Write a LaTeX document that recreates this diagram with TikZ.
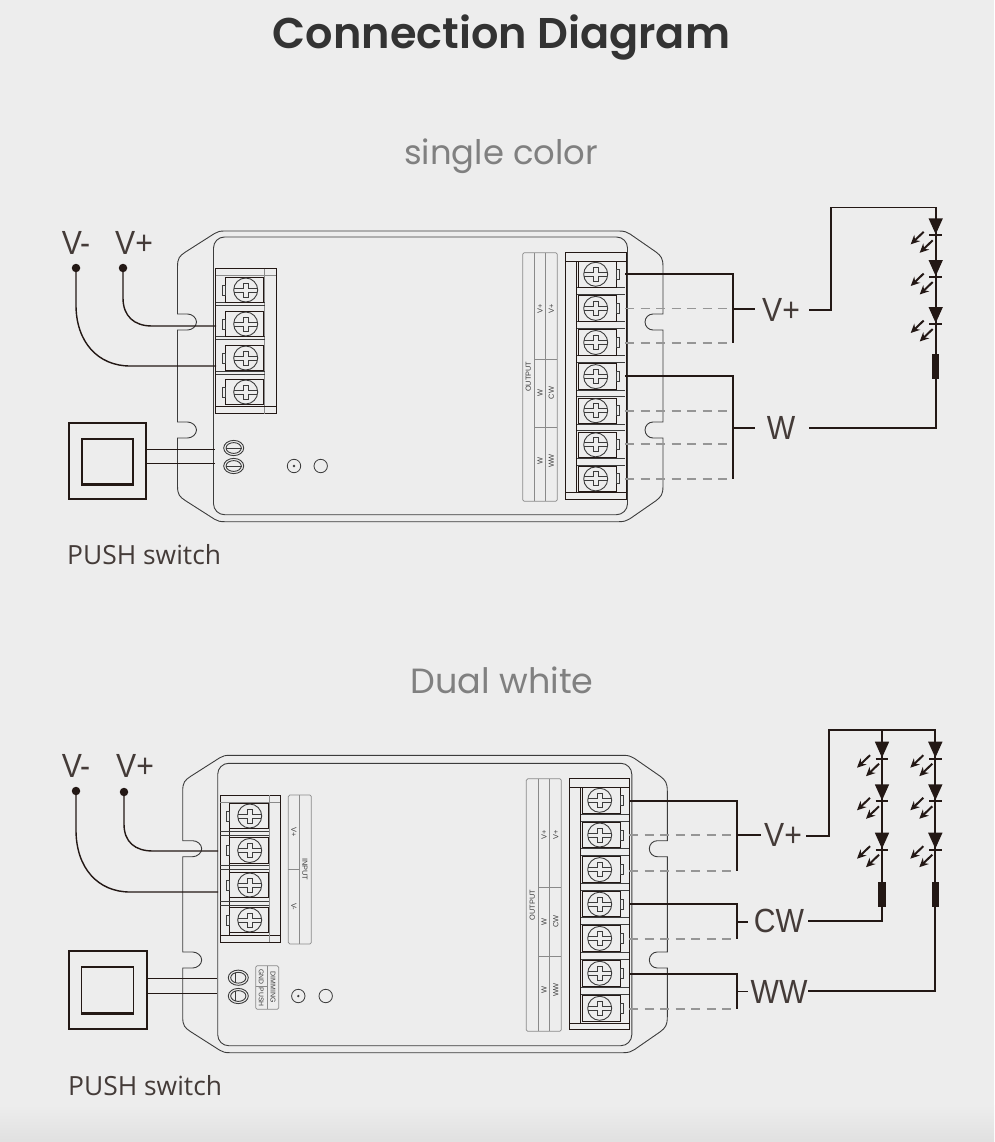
\documentclass[tikz,border=0pt]{standalone}
\usepackage{fontspec}
\usetikzlibrary{arrows.meta}
\setmainfont{Liberation Sans}
\newfontfamily\ttlfont{Poppins}[UprightFont=*-SemiBold]
\newfontfamily\subfont{Poppins}
\newfontfamily\lblfont{Liberation Sans}[FakeStretch=0.9]
\newfontfamily\pushfont{Open Sans}
\definecolor{bgc}{HTML}{EDEDED}
\definecolor{ink}{HTML}{231815}
\definecolor{devc}{HTML}{3C3C3C}
\definecolor{stripc}{HTML}{8A8A8A}
\definecolor{dashc}{HTML}{969696}
\tikzset{
 devline/.style={draw=devc,line width=0.9pt},
 heavyline/.style={draw=ink,line width=0.95pt},
 stripline/.style={draw=stripc,line width=0.7pt},
 wire/.style={draw=ink,line width=1.8pt},
 thinwire/.style={draw=ink,line width=1.2pt},
 dashwire/.style={draw=dashc,line width=1.8pt,dash pattern=on 9pt off 6.5pt},
 stripfont/.style={text=devc,font=\fontsize{7.4}{8}\selectfont,inner sep=0pt},
 biglabel/.style={text=ink!85!white,font=\lblfont\fontsize{33.5}{36}\selectfont,inner sep=0pt},
 pushlabel/.style={text=ink!85!white,font=\pushfont\fontsize{26.4}{29}\selectfont,inner sep=0pt,anchor=west},
 dot/.style={circle,fill=ink,inner sep=0pt,minimum size=8.5pt},
 screw/.pic={
  \draw[devline,line width=0.9pt] (0,0) circle[radius=12pt];
  \draw[devline,line width=0.9pt,line join=miter] (-2.6,-7) -- (2.6,-7) -- (2.6,-2) -- (11.7,-2) (11.7,2) -- (2.6,2) -- (2.6,7) -- (-2.6,7) -- (-2.6,2) -- (-11.7,2) (-11.7,-2) -- (-2.6,-2) -- (-2.6,-7);
 },
 led/.pic={
  \fill[ink] (-7.2,0) -- (7.2,0) -- (0,16) -- cycle;
  \draw[ink,line width=2pt] (-6.3,17) -- (6.3,17);
  \draw[ink,line width=2pt,-{Stealth[length=9pt,width=8.5pt]}] (-12,13.5) -- (-25,26);
  \draw[ink,line width=2pt,-{Stealth[length=9pt,width=8.5pt]}] (-3,22) -- (-16,34.5);
 },
 resistor/.pic={\fill[ink] (-3.7,0) rectangle (3.7,25);},
 pushbtn/.pic={
  \draw[devline,line width=0.9pt] (0,0) ellipse[x radius=10pt,y radius=7.6pt];
  \draw[devline] (0,0) ellipse[x radius=7.6pt,y radius=5.4pt];
 },
}
% housing: L R T B | iL iT | notch tops
\newcommand{\housing}[8]{%
 \def\Lx{#1}\def\Rx{#2}\def\Ty{#3}\def\By{#4}%
 \draw[devline] (\Lx,\Ty+36) .. controls (\Lx,\Ty+27) and (\Lx+2,\Ty+25) .. (\Lx+8,\Ty+21)
  -- (\Lx+37,\Ty+2.5) .. controls (\Lx+40,\Ty+0.5) and (\Lx+43,\Ty) .. (\Lx+47,\Ty)
  -- (\Rx-44,\Ty) .. controls (\Rx-39,\Ty) and (\Rx-36,\Ty+1) .. (\Rx-33,\Ty+3)
  -- (\Rx-7,\Ty+21) .. controls (\Rx-2,\Ty+25) and (\Rx,\Ty+27) .. (\Rx,\Ty+36)
  -- (\Rx,#7) -- (\Rx-10,#7) .. controls (\Rx-14.4,#7) and (\Rx-18,#7+3.6) .. (\Rx-18,#7+8)
  .. controls (\Rx-18,#7+12.4) and (\Rx-14.4,#7+16) .. (\Rx-10,#7+16) -- (\Rx,#7+16)
  -- (\Rx,#8) -- (\Rx-10,#8) .. controls (\Rx-14.4,#8) and (\Rx-18,#8+3.6) .. (\Rx-18,#8+8)
  .. controls (\Rx-18,#8+12.4) and (\Rx-14.4,#8+16) .. (\Rx-10,#8+16) -- (\Rx,#8+16)
  -- (\Rx,\By-36) .. controls (\Rx,\By-27) and (\Rx-2,\By-25) .. (\Rx-7,\By-21)
  -- (\Rx-33,\By-3) .. controls (\Rx-36,\By-1) and (\Rx-39,\By) .. (\Rx-44,\By)
  -- (\Lx+47,\By) .. controls (\Lx+43,\By) and (\Lx+40,\By-0.5) .. (\Lx+37,\By-2.5)
  -- (\Lx+8,\By-21) .. controls (\Lx+2,\By-25) and (\Lx,\By-27) .. (\Lx,\By-36)
  -- (\Lx,#8+16) -- (\Lx+10,#8+16) .. controls (\Lx+14.4,#8+16) and (\Lx+19,#8+12.4) .. (\Lx+19,#8+8)
  .. controls (\Lx+19,#8+3.6) and (\Lx+14.4,#8) .. (\Lx+10,#8) -- (\Lx,#8)
  -- (\Lx,#7+16) -- (\Lx+10,#7+16) .. controls (\Lx+14.4,#7+16) and (\Lx+19,#7+12.4) .. (\Lx+19,#7+8)
  .. controls (\Lx+19,#7+3.6) and (\Lx+14.4,#7) .. (\Lx+10,#7) -- (\Lx,#7) -- cycle;
 \draw[devline,rounded corners=11pt] (#5,#6) rectangle (\Rx-35.5,\By-7);
}
% one terminal: xl xr cx cy tabx
\newcommand{\tbox}[5]{%
 \draw[heavyline] (#1,#4-12.7) rectangle (#2,#4+12.7);
 \draw[devline] (#5,#4-5) rectangle (#5+2.6,#4+5);
 \pic at (#3,#4) {screw};
}
\begin{document}
\begin{tikzpicture}[x=1pt,y=-1pt]
\useasboundingbox (0,0) rectangle (994,1142);
\fill[bgc] (0,0) rectangle (994,1142);
\shade[top color=bgc,bottom color=black!12] (0,1105) rectangle (994,1142);

\node[text=black!80,font=\ttlfont\fontsize{43}{46}\selectfont,inner sep=0pt] (title) at (501.5,37.5) {Connection Diagram};
\node[text=black!50,font=\subfont\fontsize{33.8}{36}\selectfont,inner sep=0pt] (sub1) at (501,156) {single color};
\node[text=black!50,font=\subfont\fontsize{35}{38}\selectfont,inner sep=0pt] (sub2) at (502,680) {Dual white};

%%%%%%%%%%%%%%%% TOP DEVICE
\housing{177.5}{663}{231}{521.7}{213.5}{237}{314}{422}
% left block
\draw[heavyline] (215.7,268.7) rectangle (276,413.7);
\draw[stripline] (215.7,275.7) -- (276,275.7) (264.7,268.7) -- (264.7,413.7);
\draw[heavyline] (215.7,406.7) -- (276,406.7);
\foreach \yy in {304.3,338.3,372.7}{\draw[devline] (216,\yy-1.5) -- (264.7,\yy-1.5) (216,\yy+1.5) -- (264.7,\yy+1.5);}
\foreach \yy in {290,324,358,392}{\tbox{225}{263.3}{245.7}{\yy}{222.4}}
% right block
\draw[heavyline] (565.3,252.7) rectangle (626,499.3);
\draw[heavyline] (565.3,261) -- (626,261) (565.3,492.7) -- (626,492.7) (576.7,261) -- (576.7,492.7);
\foreach \yy in {291.1,325.2,359.3,393.4,427.5,461.6}{\draw[devline] (576.7,\yy-3.4) -- (625,\yy-3.4) (576.7,\yy+3.4) -- (625,\yy+3.4);}
\foreach \yy in {274.3,308.4,342.5,376.6,410.7,444.8,478.9}{\tbox{578.3}{616.7}{595.7}{\yy}{616.7}}
% label strip
\draw[stripline,rounded corners=1.5pt] (522.7,252.7) rectangle (557.3,501.3);
\draw[stripline] (534,252.7) -- (534,501.3) (545.3,252.7) -- (545.3,501.3) (534,359.3) -- (557.3,359.3) (534,427.3) -- (557.3,427.3);
\node[stripfont,rotate=90] (t1o) at (528.3,376.7) {OUTPUT};
\node[stripfont,rotate=90] (t1a) at (540,309) {V+};
\node[stripfont,rotate=90] (t1b) at (551.3,309) {V+};
\node[stripfont,rotate=90] (t1c) at (540,393) {W};
\node[stripfont,rotate=90] (t1d) at (551.3,393) {CW};
\node[stripfont,rotate=90] (t1e) at (540,461) {W};
\node[stripfont,rotate=90] (t1f) at (551.3,461) {WW};
% buttons & LEDs on panel
\pic at (233.7,448) {pushbtn};
\pic at (233.7,466) {pushbtn};
\draw[devline] (225.5,448) -- (242,448) (225.5,466) -- (242,466);
\node[draw=devc,circle,line width=0.8pt,minimum size=13.4pt,inner sep=0pt] (h1a) at (294,466) {};
\fill[devc] (h1a.center) circle[radius=1.3pt];
\node[draw=devc,circle,line width=0.8pt,minimum size=13.4pt,inner sep=0pt] (h1b) at (320.7,466) {};
% switch
\node[draw=ink,line width=1.1pt,minimum width=77pt,minimum height=76pt,inner sep=0pt] (sw1) at (107.5,461) {};
\node[draw=ink,line width=1.1pt,minimum width=51pt,minimum height=45pt,inner sep=0pt] (sw1i) at (107.5,461.5) {};
\draw[ink,line width=2pt] (sw1i.south west) -- (sw1i.south east);
\coordinate (s1a) at (sw1.east |- 0,449.3);\coordinate (s1b) at (sw1.east |- 0,463.7);
\coordinate (b1a) at (215,449.3);\coordinate (b1b) at (215,463.7);
\draw[thinwire] (s1a) -- (b1a) (s1b) -- (b1b);
% supply
\node[biglabel] (vm1) at (76,243) {V-};
\node[biglabel] (vp1) at (134,243) {V+};
\node[dot] (dm1) at (76,268) {};
\node[dot] (dp1) at (123,268) {};
\coordinate (tm1) at (216,366);\coordinate (tp1) at (216,326);
\draw[wire,line width=1.4pt] (dp1.center) -- (123,298) .. controls (123,316) and (134,326) .. (152,326) -- (tp1);
\draw[wire,line width=1.4pt] (dm1.center) -- (76,305) .. controls (76,342) and (98,366) .. (130,366) -- (tm1);
\node[pushlabel] (p1) at (67,555) {PUSH switch};
% output wires
\draw[dashwire] (625,308.4) -- (733,308.4);
\draw[dashwire] (625,342.8) -- (733,342.8);
\draw[dashwire] (625,410.6) -- (733,410.6);
\draw[dashwire] (625,444.2) -- (733,444.2);
\draw[dashwire] (625,478.6) -- (733,478.6);
\coordinate (r1a) at (625,274);\coordinate (j1a) at (733,274);\coordinate (j1b) at (733,342.8);
\coordinate (r1c) at (625,376);\coordinate (j1c) at (733,376);\coordinate (j1d) at (733,478.6);
\draw[wire] (r1a) -- (j1a) -- (j1b);
\draw[wire] (r1c) -- (j1c) -- (j1d);
\node[biglabel] (lv1) at (781,310) {V+};
\node[biglabel] (lw1) at (781,428) {W};
\coordinate (j1e) at (733,309);\coordinate (j1f) at (733,428);
\draw[wire] (j1e) -- (755,309);
\draw[wire] (j1f) -- (755,428);
% LED string
\coordinate (a1) at (809,309.7);\coordinate (a2) at (830.7,309.7);\coordinate (a3) at (830.7,207.5);\coordinate (a4) at (935.7,207.5);\coordinate (a5) at (935.7,427.7);\coordinate (a6) at (809,427.7);
\draw[wire] (a1) -- (a2) -- (a3) -- (a4) -- (a5) -- (a6);
\pic at (935.7,218.3) {led};
\pic at (935.7,260) {led};
\pic at (935.7,307) {led};
\pic at (935.7,354.3) {resistor};

%%%%%%%%%%%%%%%% BOTTOM DEVICE
\housing{182.7}{667.3}{755.3}{1052.7}{217.7}{763.3}{840.7}{952}
% left block
\draw[heavyline] (220,795) rectangle (280,942.3);
\draw[heavyline] (220,935) -- (280,935) (229.3,802.3) -- (229.3,935);
\draw[stripline] (220,802.3) -- (280,802.3) (269.3,795) -- (269.3,942.3);
\foreach \yy in {833.3,867.7,903.2}{\draw[devline] (220,\yy-2) -- (269.3,\yy-2) (220,\yy+2) -- (269.3,\yy+2);}
\foreach \yy in {816,850.5,885,920}{\tbox{229.3}{268.3}{249.7}{\yy}{226.7}}
% input strip
\draw[stripline,rounded corners=1.5pt] (288.3,795) rectangle (311.3,944);
\draw[stripline] (299.7,795) -- (299.7,944) (288.3,869.3) -- (299.7,869.3);
\node[stripfont,rotate=-90] (i1) at (305,869.3) {INPUT};
\node[stripfont,rotate=-90] (i2) at (294,831.7) {V+};
\node[stripfont,rotate=-90] (i3) at (294,906.7) {V-};
% dimming strip
\draw[stripline,rounded corners=1.5pt] (255.7,965.7) rectangle (278.7,1009.3);
\draw[stripline] (267.3,965.7) -- (267.3,1009.3) (255.7,986.7) -- (267.3,986.7);
\node[stripfont,rotate=-90,font=\fontsize{7}{7.5}\selectfont] (d1) at (273,987.3) {DIMMING};
\node[stripfont,rotate=-90,font=\fontsize{6.8}{7}\selectfont] (d2) at (261.3,976.7) {GND};
\node[stripfont,rotate=-90,font=\fontsize{6.8}{7}\selectfont] (d3) at (261.3,997.3) {PUSH};
% buttons
\pic at (238.3,977.7) {pushbtn};
\pic at (238.3,996) {pushbtn};
\draw[devline] (235,972.5) -- (235,983) (235,990.8) -- (235,1001.2);
\node[draw=devc,circle,line width=0.8pt,minimum size=13.4pt,inner sep=0pt] (h2a) at (298.3,996) {};
\fill[devc] (h2a.center) circle[radius=1.3pt];
\node[draw=devc,circle,line width=0.8pt,minimum size=13.4pt,inner sep=0pt] (h2b) at (325.7,996) {};
% right block
\draw[heavyline] (569.7,778.7) rectangle (629.3,1029.3);
\draw[heavyline] (569.7,787.3) -- (629.3,787.3) (569.7,1023.3) -- (629.3,1023.3) (580.7,787.3) -- (580.7,1023.3);
\foreach \yy in {817.6,852.2,886.9,921.2,955.8,990.8}{\draw[devline] (580.7,\yy-3.4) -- (628.5,\yy-3.4) (580.7,\yy+3.4) -- (628.5,\yy+3.4);}
\foreach \yy in {800.3,835,869.6,904.2,938.4,973.3,1008.3}{\tbox{582.3}{620.7}{599.7}{\yy}{620.7}}
% output strip
\draw[stripline,rounded corners=1.5pt] (526.3,778.7) rectangle (561.3,1031.3);
\draw[stripline] (538,778.7) -- (538,1031.3) (549.7,778.7) -- (549.7,1031.3) (538,887) -- (561.3,887) (538,956.3) -- (561.3,956.3);
\node[stripfont,rotate=90] (t2o) at (532.3,905) {OUTPUT};
\node[stripfont,rotate=90] (t2a) at (544,835) {V+};
\node[stripfont,rotate=90] (t2b) at (555.7,835) {V+};
\node[stripfont,rotate=90] (t2c) at (544,921.7) {W};
\node[stripfont,rotate=90] (t2d) at (555.7,921.7) {CW};
\node[stripfont,rotate=90] (t2e) at (544,990) {W};
\node[stripfont,rotate=90] (t2f) at (555.7,990) {WW};
% switch
\node[draw=ink,line width=1.1pt,minimum width=78pt,minimum height=78pt,inner sep=0pt] (sw2) at (108,990) {};
\node[draw=ink,line width=1.1pt,minimum width=52pt,minimum height=46pt,inner sep=0pt] (sw2i) at (107.5,990) {};
\draw[ink,line width=2pt] (sw2i.south west) -- (sw2i.south east);
\coordinate (s2a) at (sw2.east |- 0,978.3);\coordinate (s2b) at (sw2.east |- 0,993.3);
\coordinate (b2a) at (217,978.3);\coordinate (b2b) at (217,993.3);
\draw[thinwire] (s2a) -- (b2a) (s2b) -- (b2b);
% supply
\node[biglabel] (vm2) at (76,766) {V-};
\node[biglabel] (vp2) at (135,766) {V+};
\node[dot] (dm2) at (76,791) {};
\node[dot] (dp2) at (124,792) {};
\coordinate (tm2) at (218,892);\coordinate (tp2) at (218,851);
\draw[wire,line width=1.4pt] (dp2.center) -- (124,824) .. controls (124,842) and (135,851) .. (153,851) -- (tp2);
\draw[wire,line width=1.4pt] (dm2.center) -- (76,830) .. controls (76,868) and (98,892) .. (130,892) -- (tm2);
\node[pushlabel] (p2) at (68,1086) {PUSH switch};
% output wires
\draw[dashwire] (629,835) -- (737,835);
\draw[dashwire] (629,870.7) -- (737,870.7);
\draw[dashwire] (629,939) -- (737,939);
\draw[dashwire] (629,1009) -- (737,1009);
\coordinate (r2a) at (629,801.3);\coordinate (j2a) at (736.7,801.3);\coordinate (j2b) at (736.7,870.7);
\coordinate (r2c) at (629,904.3);\coordinate (j2c) at (736.7,904.3);\coordinate (j2d) at (736.7,939);
\coordinate (r2e) at (629,974);\coordinate (j2e) at (736.7,974);\coordinate (j2f) at (736.7,1009);
\draw[wire] (r2a) -- (j2a) -- (j2b);
\draw[wire] (r2c) -- (j2c) -- (j2d);
\draw[wire] (r2e) -- (j2e) -- (j2f);
\coordinate (j2g) at (736.7,835);\coordinate (j2h) at (736.7,921.7);\coordinate (j2i) at (736.7,991.5);
\draw[wire] (j2g) -- (760.7,835);
\draw[wire] (j2h) -- (748,921.7);
\draw[wire] (j2i) -- (748,991.5);
\node[biglabel] (lv2) at (783,835) {V+};
\node[biglabel] (lc2) at (779,921) {CW};
\node[biglabel] (lww2) at (779,992) {WW};
% LED strings
\coordinate (c1) at (806,836.3);\coordinate (c2) at (829,836.3);\coordinate (c3) at (829,729.7);\coordinate (c4) at (935.3,729.7);\coordinate (c5) at (935.3,991.3);\coordinate (c6) at (808.3,991.3);
\coordinate (e1) at (882,729.7);\coordinate (e2) at (882,921.3);\coordinate (e3) at (808.3,921.3);
\draw[wire] (c1) -- (c2) -- (c3) -- (c4) -- (c5) -- (c6);
\draw[wire] (e1) -- (e2) -- (e3);
\foreach \xx in {882,935.3}{
 \pic at (\xx,741.7) {led};
 \pic at (\xx,784.3) {led};
 \pic at (\xx,832.7) {led};
 \pic at (\xx,881.7) {resistor};
}
\end{tikzpicture}
\end{document}
